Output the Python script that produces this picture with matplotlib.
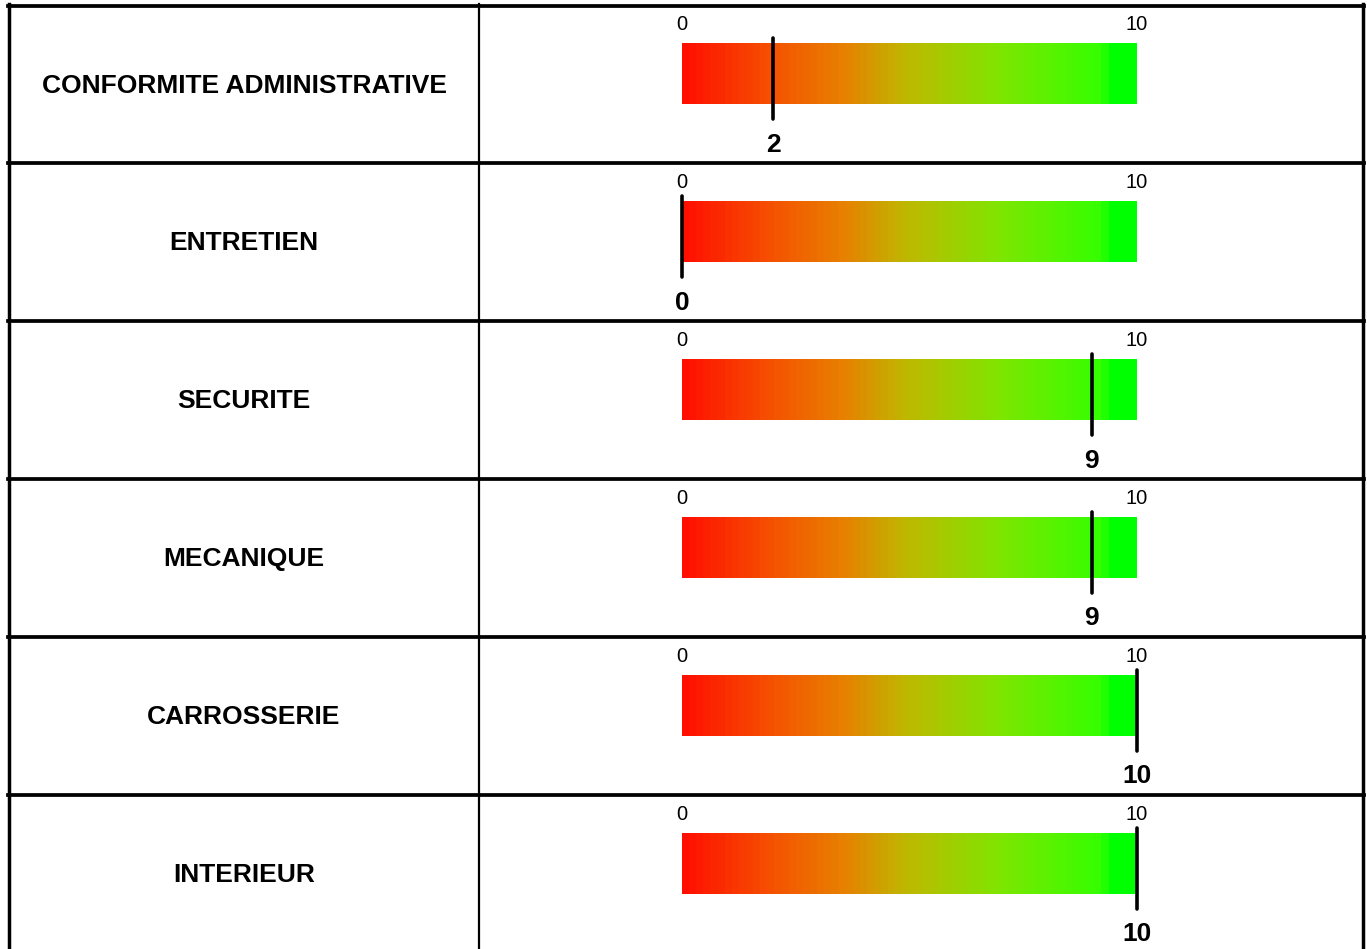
import numpy as np
import matplotlib
matplotlib.use("Agg")
import matplotlib.pyplot as plt
from matplotlib.colors import LinearSegmentedColormap

# data
categories = [
    "CONFORMITE ADMINISTRATIVE",
    "ENTRETIEN",
    "SECURITE",
    "MECANIQUE",
    "CARROSSERIE",
    "INTERIEUR",
]
scores = [2, 0, 9, 9, 10, 10]
scale_min, scale_max = 0, 10

plt.rcParams["font.family"] = ["Liberation Sans", "DejaVu Sans"]

# layout in pixels
W, H = 1367, 949
TOP, ROW_H = 5.5, 157.8
LEFT, MID, RIGHT = 9, 479, 1362.5
BAR_X0, BAR_X1 = 682, 1137

gauge = LinearSegmentedColormap.from_list("gauge", [
    (0.00, (1.00, 0.06, 0.00)),
    (0.20, (0.96, 0.33, 0.00)),
    (0.35, (0.91, 0.50, 0.00)),
    (0.50, (0.74, 0.73, 0.00)),
    (0.70, (0.50, 0.90, 0.00)),
    (0.93, (0.20, 1.00, 0.00)),
    (0.95, (0.00, 1.00, 0.00)),
    (1.00, (0.00, 1.00, 0.00)),
], N=64)

fig = plt.figure(figsize=(W / 100, H / 100), dpi=100)

# table grid
grid = fig.add_axes([0, 0, 1, 1])
grid.set_xlim(0, W)
grid.set_ylim(H, 0)
grid.axis("off")
n = len(categories)
for i in range(n + 1):
    y = TOP + i * ROW_H
    grid.plot([LEFT - 1.5, RIGHT + 1.5], [y, y], color="black", lw=2.7)
for x, lw in [(LEFT, 2.5), (RIGHT, 2.5), (MID, 1.6)]:
    grid.plot([x, x], [TOP - 1.5, H + 5], color="black", lw=lw)

grad = np.linspace(0, 1, 256).reshape(1, -1)

for i, (cat, v) in enumerate(zip(categories, scores)):
    row_top = TOP + i * ROW_H
    grid.text((LEFT + MID) / 2, row_top + 87, cat, ha="center", va="baseline",
              fontsize=19, fontweight="bold")

    ax = fig.add_axes([BAR_X0 / W, 1 - (row_top + ROW_H) / H,
                       (BAR_X1 - BAR_X0) / W, ROW_H / H])
    ax.imshow(grad, cmap=gauge, aspect="auto", interpolation="nearest",
              extent=(scale_min, scale_max, 99, 38.5))
    ax.set_xlim(scale_min, scale_max)
    ax.set_ylim(ROW_H, 0)
    ax.axis("off")

    ax.text(scale_min, 25, str(scale_min), ha="center", va="baseline", fontsize=14.5)
    ax.text(scale_max, 25, str(scale_max), ha="center", va="baseline", fontsize=14.5)
    ax.plot([v, v], [33, 114], color="black", lw=2.6, solid_capstyle="round",
            clip_on=False, zorder=5)
    ax.text(v, 146.5, str(v), ha="center", va="baseline", fontsize=19,
            fontweight="bold", clip_on=False)

fig.savefig("out.png", dpi=100)
